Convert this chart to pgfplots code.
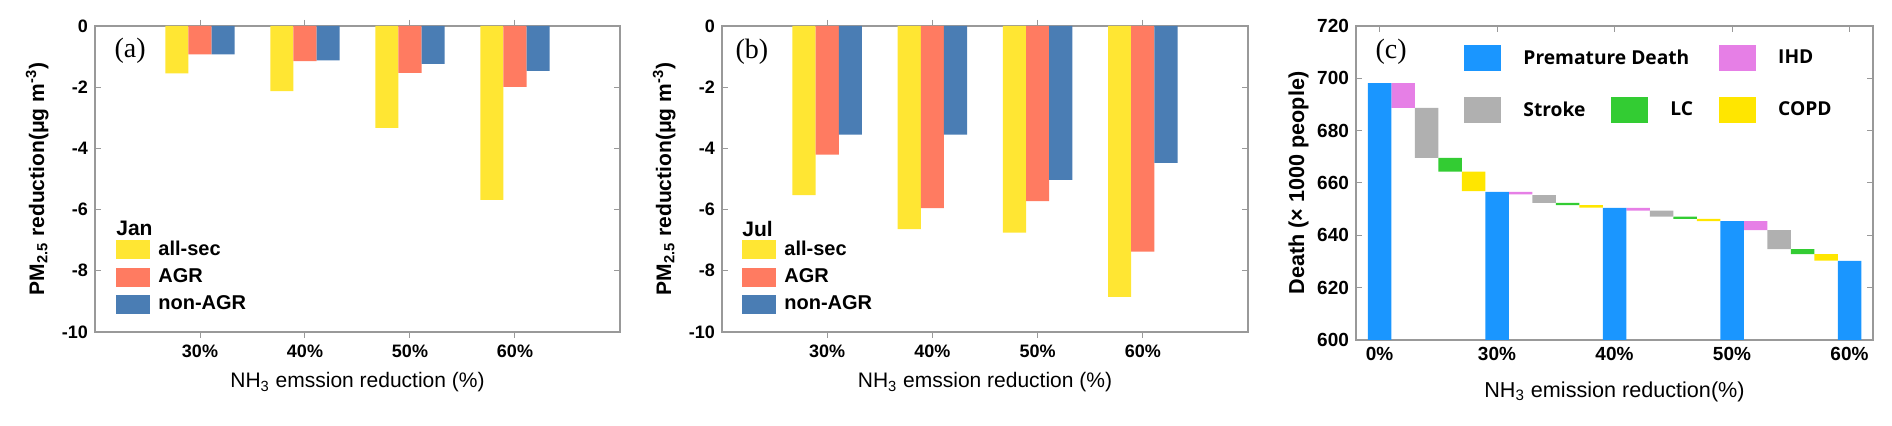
\documentclass[border=0pt]{standalone}
\usepackage{fontspec}
\setmainfont{Liberation Sans}
\newfontfamily\seriffont{Liberation Serif}
\newfontfamily\legfont{Open Sans}
\usepackage{pgfplots}
\usepackage{pgfplotstable}
\pgfplotsset{compat=1.18}

\definecolor{allsec}{HTML}{FFE633}
\definecolor{agr}{HTML}{FF7B61}
\definecolor{nonagr}{HTML}{4A7DB4}
\definecolor{pdblue}{HTML}{1A96FF}
\definecolor{ihd}{HTML}{E67FE6}
\definecolor{stroke}{HTML}{B0B0B0}
\definecolor{lc}{HTML}{33CC33}
\definecolor{copd}{HTML}{FFE600}
\definecolor{axgray}{HTML}{999999}

% PM2.5 change, Jan and Jul
\pgfplotstableread{
pct allsec agr nonagr
1 -1.55 -0.93 -0.93
2 -2.13 -1.15 -1.12
3 -3.33 -1.53 -1.24
4 -5.68 -1.99 -1.47
}\jan
\pgfplotstableread{
pct allsec agr nonagr
1 -5.53 -4.20 -3.55
2 -6.64 -5.95 -3.55
3 -6.75 -5.72 -5.03
4 -8.85 -7.37 -4.47
}\jul

% waterfall: invisible base + one height per cause
\pgfplotstableread{
x   base  pd    ihd  stroke lc  copd
0.0 0     698.2 0    0      0   0
0.2 688.7 0     9.5  0      0   0
0.4 669.6 0     0    19.1   0   0
0.6 664.3 0     0    0      5.3 0
0.8 656.9 0     0    0      0   7.4
1.0 0     656.6 0    0      0   0
1.2 655.6 0     1.0  0      0   0
1.4 652.4 0     0    3.0    0   0
1.6 651.5 0     0    0      0.9 0
1.8 650.6 0     0    0      0   0.9
2.0 0     650.5 0    0      0   0
2.2 649.4 0     1.1  0      0   0
2.4 647.1 0     0    2.3    0   0
2.6 646.3 0     0    0      0.8 0
2.8 645.4 0     0    0      0   0.9
3.0 0     645.4 0    0      0   0
3.2 642.0 0     3.4  0      0   0
3.4 634.7 0     0    7.3    0   0
3.6 632.8 0     0    0      1.9 0
3.8 630.3 0     0    0      0   2.5
4.0 0     630.2 0    0      0   0
}\wf

\pgfplotsset{
  matlab/.style={
    scale only axis,
    axis line style={draw=axgray, line width=0.6pt},
    tick style={draw=axgray, line width=0.5pt},
    tick align=inside,
    major tick length=3pt,
    /pgf/number format/assume math mode=true,
    ticklabel style={font=\fontsize{9}{10}\selectfont\bfseries},
    label style={font=\fontsize{10.5}{12}\selectfont},
  },
  boxab/.style={legend image code/.code={\fill[##1] (0pt,-4.75pt) rectangle (17pt,4.75pt);}},
  boxc/.style={legend image code/.code={\fill[##1] (0pt,-6.5pt) rectangle (18.5pt,6.5pt);}},
  pmpanel/.style={
    matlab, width=262.5pt, height=153pt,
    xmin=0, xmax=5, ymin=-10, ymax=0,
    xtick={1,2,3,4}, xticklabels={30\%,40\%,50\%,60\%},
    ytick={-10,-8,-6,-4,-2,0},
    ybar=0pt, bar width=0.22,
    xlabel={NH\textsubscript{3} emssion reduction (\%)},
    ylabel={\bfseries PM\textsubscript{2.5} reduction(μg m\textsuperscript{-3})},
    ylabel style={at={(axis description cs:-0.11,0.5)}, anchor=center},
    xlabel style={at={(axis description cs:0.5,-0.183)}, anchor=base},
    legend cell align=left,
    legend style={draw=none, fill=none, inner sep=0pt, row sep=1pt,
      column sep=2pt, font=\fontsize{10}{12}\selectfont\bfseries,
      at={(axis description cs:0.04,0.049)}, anchor=south west},
  },
}

\begin{document}
\begin{tikzpicture}
\path[use as bounding box] (0,0) rectangle (946pt,213pt);

\begin{axis}[pmpanel, at={(47.5pt,47pt)}, anchor=south west]
\addplot[fill=allsec, draw=none, boxab] table[x=pct,y=allsec]{\jan};
\addplot[fill=agr, draw=none, boxab] table[x=pct,y=agr]{\jan};
\addplot[fill=nonagr, draw=none, boxab] table[x=pct,y=nonagr]{\jan};
\legend{all-sec,AGR,non-AGR}
\node[font=\seriffont\fontsize{14}{16}\selectfont] at (axis description cs:0.067,0.918) {(a)};
\node[anchor=west, inner sep=0pt, font=\fontsize{10.5}{12}\selectfont\bfseries] at (axis description cs:0.04,0.337) {Jan};
\end{axis}

\begin{axis}[pmpanel, at={(361pt,47pt)}, anchor=south west, width=263pt,
  legend style={at={(axis description cs:0.038,0.049)}}]
\addplot[fill=allsec, draw=none, boxab] table[x=pct,y=allsec]{\jul};
\addplot[fill=agr, draw=none, boxab] table[x=pct,y=agr]{\jul};
\addplot[fill=nonagr, draw=none, boxab] table[x=pct,y=nonagr]{\jul};
\legend{all-sec,AGR,non-AGR}
\node[font=\seriffont\fontsize{14}{16}\selectfont] at (axis description cs:0.057,0.915) {(b)};
\node[anchor=west, inner sep=0pt, font=\fontsize{10.5}{12}\selectfont\bfseries] at (axis description cs:0.038,0.337) {Jul};
\end{axis}

\begin{axis}[matlab, at={(678pt,43pt)}, anchor=south west,
  width=258.5pt, height=157pt,
  xmin=-0.2, xmax=4.2, ymin=600, ymax=720,
  xtick={0,1,2,3,4}, xticklabels={0\%,30\%,40\%,50\%,60\%},
  ytick={600,620,...,720},
  ticklabel style={font=\fontsize{9.5}{11}\selectfont\bfseries},
  ybar stacked, bar width=0.2,
  xlabel={NH\textsubscript{3} emission reduction(\%)},
  ylabel={\bfseries Death (× 1000 people)},
  label style={font=\fontsize{10.8}{12}\selectfont},
  ylabel style={at={(axis description cs:-0.111,0.5)}, anchor=center},
  xlabel style={at={(axis description cs:0.5,-0.182)}, anchor=base},
  legend columns=3,
  legend cell align=left,
  legend style={draw=none, fill=none, inner sep=0pt, row sep=13pt,
    column sep=9pt, /tikz/every even column/.append style={column sep=11pt},
    font=\legfont\bfseries\fontsize{9.6}{12}\selectfont,
    at={(axis description cs:0.209,0.94)}, anchor=north west},
]
\addplot[draw=none, fill=none, forget plot] table[x=x,y=base]{\wf};
\addplot[fill=pdblue, draw=none, forget plot] table[x=x,y=pd]{\wf};
\addplot[fill=ihd, draw=none, forget plot] table[x=x,y=ihd]{\wf};
\addplot[fill=stroke, draw=none, forget plot] table[x=x,y=stroke]{\wf};
\addplot[fill=lc, draw=none, forget plot] table[x=x,y=lc]{\wf};
\addplot[fill=copd, draw=none, forget plot] table[x=x,y=copd]{\wf};
\addlegendimage{boxc, fill=pdblue, draw=none}
\addlegendentry{\makebox[0pt][l]{Premature Death}}
\addlegendimage{empty legend}
\addlegendentry{}
\addlegendimage{boxc, fill=ihd, draw=none}
\addlegendentry{IHD}
\addlegendimage{boxc, fill=stroke, draw=none}
\addlegendentry{Stroke}
\addlegendimage{boxc, fill=lc, draw=none}
\addlegendentry{LC}
\addlegendimage{boxc, fill=copd, draw=none}
\addlegendentry{COPD}
\node[font=\seriffont\fontsize{14}{16}\selectfont] at (axis description cs:0.068,0.917) {(c)};
\end{axis}
\end{tikzpicture}
\end{document}
